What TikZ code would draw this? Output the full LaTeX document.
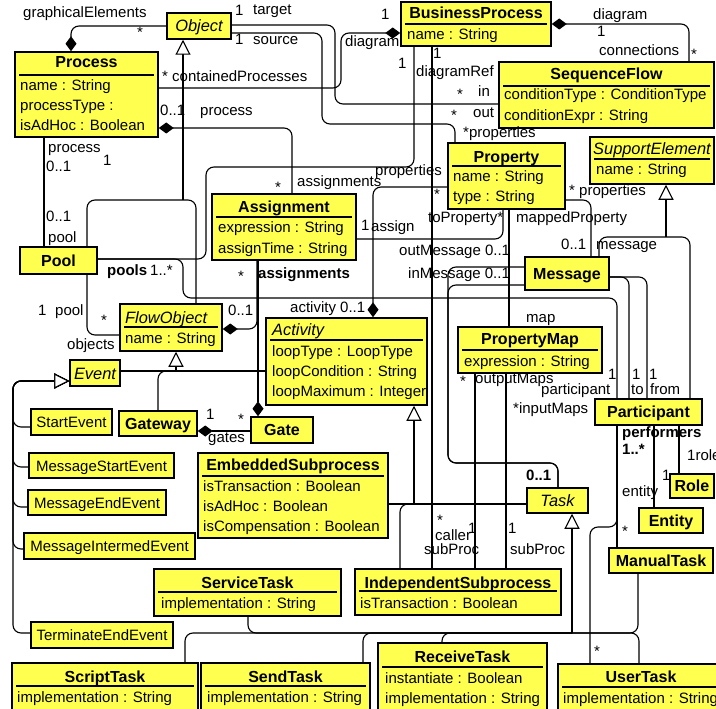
\documentclass[tikz,border=0pt]{standalone}
\usepackage{fontspec}
\setmainfont{Liberation Sans}
\usetikzlibrary{arrows.meta,fit}
\definecolor{umlyellow}{RGB}{255,255,80}
\newcommand{\klass}[5]{\node[box, fit={(#2,#3) (#4,#5)}] (#1) {};}
\tikzset{
 box/.style={draw=black, line width=1.5pt, fill=umlyellow, inner sep=0pt},
 ttl/.style={font=\fontsize{16}{18}\selectfont\bfseries, inner sep=0pt, anchor=base},
 itl/.style={font=\fontsize{16.4}{18}\selectfont\itshape, inner sep=0pt, anchor=base},
 att/.style={font=\fontsize{15}{18}\selectfont, inner sep=0pt, anchor=base west},
 plt/.style={font=\fontsize{15}{18}\selectfont, inner sep=0pt, anchor=base},
 lab/.style={font=\fontsize{15}{18}\selectfont, inner sep=0pt, anchor=mid west},
 blab/.style={font=\fontsize{15}{18}\selectfont\bfseries, inner sep=0pt, anchor=mid west},
 conn/.style={line width=1.1pt, rounded corners=8pt},
 comp/.style={conn, -{Diamond[length=15pt,width=11pt]}},
 gen/.style={conn, -{Triangle[open,fill=white,length=15pt,width=15pt]}},
 dvd/.style={line width=1.2pt},
}
\begin{document}
\begin{tikzpicture}[x=1pt,y=-1pt]
\fill[white] (0,0) rectangle (716,709);
\useasboundingbox (0,0) rectangle (716,709);
\clip (0,0) rectangle (716,709);

% ---------- boxes ----------
\klass{object}{167}{13}{231}{39}
\klass{process}{15}{52}{158}{137}
\klass{bp}{401}{2}{551}{46}
\klass{sflow}{499}{62}{714}{128}
\klass{support}{590}{137}{714}{184}
\klass{property}{448}{143}{565}{209}
\klass{assign}{212}{194}{356}{260}
\klass{message}{525}{257}{609}{290}
\klass{pool}{20}{247}{97}{274}
\klass{flowobj}{120}{304}{222}{351}
\klass{activity}{266}{318}{427}{405}
\klass{pmap}{458}{327}{602}{373}
\klass{event}{70}{360}{120}{386}
\klass{startev}{31}{409}{112}{435}
\klass{gateway}{119}{411}{197}{436}
\klass{gate}{251}{417}{313}{443}
\klass{msgstart}{29}{453}{174}{478}
\klass{msgend}{28}{490}{166}{515}
\klass{embsub}{198}{453}{388}{538}
\klass{msginter}{24}{533}{195}{559}
\klass{service}{154}{569}{341}{616}
\klass{terminate}{31}{622}{173}{648}
\klass{script}{12}{663}{198}{740}
\klass{send}{201}{663}{370}{740}
\klass{isub}{355}{569}{561}{615}
\klass{task}{527}{488}{588}{513}
\klass{receive}{378}{643}{547}{740}
\klass{usertask}{558}{664}{724}{740}
\klass{participant}{595}{399}{702}{425}
\klass{role}{670}{474}{714}{498}
\klass{entity}{639}{508}{703}{533}
\klass{manual}{609}{548}{713}{573}

% ---------- connectors ----------
\draw[comp] (object.west |- 0,26) -| (process.north -| 71,0);
\draw[conn] (object.east |- 0,25) -- (335,25) -- (335,104) -- (sflow.west |- 0,104);
\draw[conn] (object.east |- 0,33) -- (322,33) -- (322,124) -- (455,124) -- (property.north -| 455,0);
\draw[comp] (process.east |- 0,88) -- (341,88) -- (341,33) -- (bp.west |- 0,33);
\draw[comp] (sflow.north -| 689,0) |- (bp.east |- 0,24);
\draw[conn] (bp.south -| 414,0) -- (414,167) -- (206,167) -- (206,259) -- (pool.east |- 0,259);
\draw[conn] (pool.east |- 0,259) -- (183,259) -- (183,298) -- (617,298) -- (participant.north -| 617,0);
\draw[conn] (bp.south -| 432,0) -- (isub.north -| 432,0);
\draw[conn] (process.south -| 44,0) -- (pool.north -| 44,0);
\coordinate (jobj) at (183,200);
\draw[conn] (flowobj.north -| 196,0) -- (196,200) -- (87,200) -- (pool.north -| 87,0);
\draw[gen] (jobj) -- (object.south -| 183,0);
\draw[conn] (pool.south -| 87,0) -- (87,335) -- (flowobj.west |- 0,335);
\draw[comp] (assign.north -| 292,0) -- (292,128) -- (process.east |- 0,128);
\draw[comp] (assign.south -| 257,0) -- (257,329) -- (flowobj.east |- 0,329);
\draw[comp] (assign.south -| 258,0) -- (gate.north -| 258,0);
\draw[conn] (assign.east |- 0,239) -- (503,239) -- (property.south -| 503,0);
\draw[comp] (property.west |- 0,187) -- (373,187) -- (activity.north -| 373,0);
\draw[conn] (property.east |- 0,200) -- (591,200) -- (message.north -| 591,0);
\draw[conn] (property.south -| 509,0) -- (pmap.north -| 509,0);
\coordinate (jsup) at (666,237);
\draw[conn] (message.north -| 599,0) -- (599,237) -- (690,237) -- (participant.north -| 690,0);
\draw[gen] (jsup) -- (support.south -| 666,0);
\draw[conn] (message.east |- 0,277) -- (629,277) -- (participant.north -| 629,0);
\draw[conn] (message.east |- 0,277) -- (647,277) -- (participant.north -| 647,0);
\draw[conn] (message.west |- 0,267) -- (448,267) -- (448,463) -- (558,463) -- (task.north -| 558,0);
\draw[conn] (message.west |- 0,285) -- (448,285) -- (448,463) -- (558,463) -- (task.north -| 558,0);
\draw[conn] (pmap.south -| 475,0) -- (isub.north -| 475,0);
\draw[conn] (pmap.south -| 506,0) -- (isub.north -| 506,0);
\coordinate (jact) at (414,504);
\draw[conn] (embsub.east |- 0,504) -- (task.west |- 0,504);
\draw[conn] (isub.north -| 400,0) -- (400,504) -- (jact);
\draw[gen] (jact) -- (activity.south -| 414,0);
\coordinate (jflow) at (176,371);
\draw[conn] (event.east |- 0,371) -- (activity.west |- 0,371);
\draw[conn] (gateway.north -| 158,0) -- (158,371) -- (jflow);
\draw[gen] (jflow) -- (flowobj.south -| 176,0);
\draw[gen] (startev.west |- 0,427) -- (13,427) -- (13,381) -- (event.west |- 0,381);
\draw[gen] (msgstart.west |- 0,467) -- (13,467) -- (13,381) -- (event.west |- 0,381);
\draw[gen] (msgend.west |- 0,507) -- (13,507) -- (13,381) -- (event.west |- 0,381);
\draw[gen] (msginter.west |- 0,549) -- (13,549) -- (13,381) -- (event.west |- 0,381);
\draw[gen] (terminate.west |- 0,633) -- (13,633) -- (13,381) -- (event.west |- 0,381);
\draw[comp] (gate.west |- 0,431) -- (gateway.east |- 0,431);
\coordinate (jtask) at (572,633);
\draw[conn] (script.north -| 185,0) -- (185,633) -- (jtask);
\draw[conn] (service.south -| 248,0) -- (248,633) -- (jtask);
\draw[conn] (send.north -| 363,0) -- (363,633) -- (jtask);
\draw[conn] (receive.north -| 442,0) -- (442,633) -- (jtask);
\draw[conn] (usertask.north -| 639,0) -- (639,633) -- (jtask);
\draw[conn] (manual.south -| 638,0) -- (638,633) -- (jtask);
\draw[gen] (jtask) -- (task.south -| 572,0);
\draw[conn] (participant.south -| 617,0) -- (manual.north -| 617,0);
\draw[conn] (participant.south -| 617,0) -- (617,527) -- (590,527) -- (usertask.north -| 590,0);
\draw[conn] (participant.south -| 679,0) -- (role.north -| 679,0);
\draw[conn] (participant.south -| 654,0) -- (entity.north -| 654,0);

% ---------- box contents ----------
\node[itl] (object-t) at (199,32) {Object};
\node[ttl] (process-t) at (86.5,68) {Process};
\draw[dvd] (19,75) -- (154,75);
\node[att] (process-a1) at (20,91) {name : String};
\node[att] (process-a2) at (20,111) {processType :};
\node[att] (process-a3) at (20,131) {isAdHoc : Boolean};
\node[ttl] (bp-t) at (476,19) {BusinessProcess};
\draw[dvd] (405,24) -- (547,24);
\node[att] (bp-a1) at (407,40) {name : String};
\node[ttl] (sflow-t) at (606.5,80) {SequenceFlow};
\draw[dvd] (503,86) -- (710,86);
\node[att] (sflow-a1) at (504,100) {conditionType : ConditionType};
\node[att] (sflow-a2) at (504,121) {conditionExpr : String};
\node[itl] (support-t) at (652,154) {SupportElement};
\draw[dvd] (594,159) -- (710,159);
\node[att] (support-a1) at (596,175) {name : String};
\node[ttl] (property-t) at (506.5,163) {Property};
\draw[dvd] (452,166) -- (561,166);
\node[att] (property-a1) at (453,182) {name : String};
\node[att] (property-a2) at (453,201) {type : String};
\node[ttl] (assign-t) at (284,212) {Assignment};
\draw[dvd] (216,217) -- (352,217);
\node[att] (assign-a1) at (218,233) {expression : String};
\node[att] (assign-a2) at (218,253) {assignTime : String};
\node[ttl] (message-t) at (567,279) {Message};
\node[ttl] (pool-t) at (58.5,266) {Pool};
\node[itl, anchor=base west] (flowobj-t) at (125,323) {FlowObject};
\draw[dvd] (124,327) -- (218,327);
\node[att] (flowobj-a1) at (125,343) {name : String};
\node[itl, anchor=base west] (activity-t) at (272,335) {Activity};
\draw[dvd] (270,340) -- (423,340);
\node[att] (activity-a1) at (272,356) {loopType : LoopType};
\node[att] (activity-a2) at (272,376) {loopCondition : String};
\node[att] (activity-a3) at (272,396) {loopMaximum : Integer};
\node[ttl] (pmap-t) at (530,344) {PropertyMap};
\draw[dvd] (462,350) -- (598,350);
\node[att] (pmap-a1) at (464,366) {expression : String};
\node[itl] (event-t) at (95,379) {Event};
\node[plt] (startev-t) at (71.5,427.5) {StartEvent};
\node[ttl] (gateway-t) at (158,429) {Gateway};
\node[ttl] (gate-t) at (282,435.5) {Gate};
\node[plt] (msgstart-t) at (101.5,471) {MessageStartEvent};
\node[plt] (msgend-t) at (97,508) {MessageEndEvent};
\node[ttl] (embsub-t) at (293,470) {EmbeddedSubprocess};
\draw[dvd] (202,476) -- (384,476);
\node[att] (embsub-a1) at (203,491) {isTransaction : Boolean};
\node[att] (embsub-a2) at (203,511) {isAdHoc : Boolean};
\node[att] (embsub-a3) at (203,531) {isCompensation : Boolean};
\node[plt] (msginter-t) at (109.5,551.5) {MessageIntermedEvent};
\node[ttl] (service-t) at (247.5,588) {ServiceTask};
\draw[dvd] (158,592) -- (337,592);
\node[att] (service-a1) at (161,608) {implementation : String};
\node[plt] (terminate-t) at (102,640.5) {TerminateEndEvent};
\node[ttl] (script-t) at (105,682) {ScriptTask};
\draw[dvd] (16,686) -- (194,686);
\node[att] (script-a1) at (17,702) {implementation : String};
\node[ttl] (send-t) at (285.5,682) {SendTask};
\draw[dvd] (205,686) -- (366,686);
\node[att] (send-a1) at (207,702) {implementation : String};
\node[ttl] (isub-t) at (458,588) {IndependentSubprocess};
\draw[dvd] (359,591) -- (557,591);
\node[att] (isub-a1) at (360,608) {isTransaction : Boolean};
\node[itl] (task-t) at (557.5,506) {Task};
\node[ttl] (receive-t) at (462.5,662) {ReceiveTask};
\draw[dvd] (382,667) -- (543,667);
\node[att] (receive-a1) at (385,683) {instantiate : Boolean};
\node[att] (receive-a2) at (385,703) {implementation : String};
\node[ttl] (usertask-t) at (641,682) {UserTask};
\draw[dvd] (562,687) -- (720,687);
\node[att] (usertask-a1) at (563,703) {implementation : String};
\node[ttl] (participant-t) at (648.5,417.5) {Participant};
\node[ttl] (role-t) at (692,491.5) {Role};
\node[ttl] (entity-t) at (671,526) {Entity};
\node[ttl] (manual-t) at (661,566) {ManualTask};

% ---------- labels ----------
\node[lab] (l1) at (23,15) {graphicalElements};
\node[lab] (l2) at (137,35) {*};
\node[lab] (l3) at (235,13) {1};
\node[lab] (l4) at (253,12) {target};
\node[lab] (l5) at (235,42) {1};
\node[lab] (l6) at (253,42) {source};
\node[lab] (l7) at (162,79) {* containedProcesses};
\node[lab] (l8) at (160,113) {0..1};
\node[lab] (l9) at (200,113) {process};
\node[lab] (l10) at (48,150) {process};
\node[lab] (l11) at (46,169) {0..1};
\node[lab] (l12) at (103,163) {1};
\node[lab] (l13) at (46,219) {0..1};
\node[lab] (l14) at (48,240) {pool};
\node[lab] (l15) at (345,44) {diagram};
\node[lab] (l16) at (381,17) {1};
\node[lab] (l17) at (593,17) {diagram};
\node[lab] (l18) at (597,34) {1};
\node[lab] (l19) at (599,53) {connections};
\node[lab] (l20) at (691,57) {*};
\node[lab] (l21) at (398,66) {1};
\node[lab] (l22) at (433,56) {1};
\node[lab] (l23) at (416,74) {diagramRef};
\node[lab] (l24) at (457,97) {*};
\node[lab] (l25) at (478,94) {in};
\node[lab] (l26) at (451,118) {*};
\node[lab] (l27) at (473,115) {out};
\node[lab] (l28) at (463,135) {*properties};
\node[lab] (l29) at (275,190) {*};
\node[lab] (l30) at (297,184) {assignments};
\node[lab] (l31) at (375,173) {properties};
\node[lab] (l32) at (434,197) {*};
\node[lab] (l33) at (569,193) {* properties};
\node[lab] (l34) at (428,220) {toProperty*};
\node[lab] (l35) at (516,220) {mappedProperty};
\node[lab] (l36) at (361,228) {1};
\node[lab] (l37) at (371,229) {assign};
\node[lab] (l38) at (561,247) {0..1};
\node[lab] (l39) at (596,247) {message};
\node[lab] (l40) at (399,253) {outMessage 0..1};
\node[lab] (l41) at (408,276) {inMessage 0..1};
\node[lab] (l42) at (526,320) {map};
\node[blab] (l43) at (107,273) {pools};
\node[lab] (l44) at (150,273) {1..*};
\node[lab] (l45) at (238,279) {*};
\node[blab] (l46) at (258,276) {assignments};
\node[lab] (l47) at (290,310) {activity 0..1};
\node[lab] (l48) at (228,313) {0..1};
\node[lab] (l49) at (38,313) {1};
\node[lab] (l50) at (55,313) {pool};
\node[lab] (l51) at (101,323) {*};
\node[lab] (l52) at (67,347) {objects};
\node[lab] (l53) at (206,417) {1};
\node[lab] (l54) at (238,422) {*};
\node[lab] (l55) at (208,440) {gates};
\node[lab] (l56) at (460,384) {*};
\node[lab] (l57) at (475,381) {outputMaps};
\node[lab] (l58) at (513,411) {*inputMaps};
\node[lab] (l59) at (608,377) {1};
\node[lab] (l60) at (541,392) {participant};
\node[lab] (l61) at (632,377) {1};
\node[lab] (l62) at (631,392) {to};
\node[lab] (l63) at (649,377) {1};
\node[lab] (l64) at (650,392) {from};
\node[blab] (l65) at (622,435) {performers};
\node[blab] (l66) at (622,452) {1..*};
\node[lab] (l67) at (687,458) {1role};
\node[lab] (l68) at (662,478) {1};
\node[lab] (l69) at (622,494) {entity};
\node[lab] (l70) at (622,534) {*};
\node[blab] (l71) at (526,478) {0..1};
\node[lab] (l72) at (437,523) {*};
\node[lab] (l73) at (435,538) {caller};
\node[lab] (l74) at (468,531) {1};
\node[lab] (l75) at (424,552) {subProc};
\node[lab] (l76) at (508,531) {1};
\node[lab] (l77) at (510,552) {subProc};
\node[lab] (l78) at (594,654) {*};
\end{tikzpicture}
\end{document}
